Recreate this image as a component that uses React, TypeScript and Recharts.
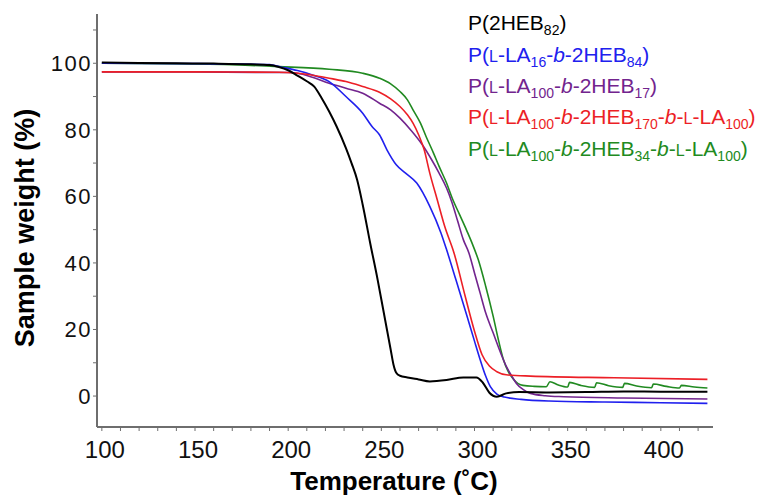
import React from 'react';
import { LineChart, Line, XAxis, YAxis } from 'recharts';

// Temperature (°C) vs sample weight (%) pairs
const p2HEB82: [number, number][] = [
  [100, 100.2], [120, 100.1], [140, 100], [160, 99.9], [180, 99.7], [190, 99.5], [195, 98.9],
  [200, 97.9], [205, 96.3], [210, 94.6], [214, 93], [218, 89.5], [222, 85.5], [226, 81],
  [231, 74.5], [234, 70], [237, 65], [240, 57.5], [244, 46], [248, 35], [251, 26], [253, 20],
  [255, 14], [256.5, 9.5], [258, 7], [260, 6.1], [264, 5.6], [270, 5], [276, 4.4], [285, 4.8],
  [294, 5.6], [301, 5.6], [304.5, 4], [308, 1], [312, -0.2], [317, 0.8], [324, 1.2], [340, 1.1],
  [360, 1.2], [380, 1.4], [400, 1.3], [425, 1.3],
];
const pLA16HEB84: [number, number][] = [
  [100, 100], [150, 99.9], [190, 99.6], [196, 98.9], [205, 97.8], [213, 96.5], [222, 94.5],
  [231, 90], [240, 85], [245, 81], [249, 78.5], [253, 74], [258, 69.5], [263, 67], [269, 64],
  [276, 57], [282, 49], [285, 44], [290, 35], [296, 24], [300, 16.5], [303, 11], [306, 6],
  [308.5, 2.8], [312, 0.6], [316, -0.3], [325, -1], [340, -1.5], [370, -1.8], [400, -2], [425, -2.2],
];
const pLA100HEB17: [number, number][] = [
  [100, 97.4], [150, 97.4], [200, 97.2], [205, 97], [213, 95.8], [222, 94], [231, 92.5],
  [240, 91], [249, 88], [255, 86], [260, 83.5], [266, 79.8], [272, 75.5], [277, 71], [281, 67],
  [285, 62.5], [288, 58], [291, 52.5], [294, 47], [297, 43], [300, 37], [303, 31], [306, 25],
  [310, 19], [314, 13], [317, 9], [320, 6], [322.5, 3.8], [326, 2], [330, 0.8], [338, 0.1],
  [348, -0.2], [380, -0.6], [425, -0.9],
];
const pLA100HEB170LA100: [number, number][] = [
  [100, 97.4], [150, 97.4], [195, 97.3], [210, 96.7], [217, 96], [224, 95.3], [231, 94.5],
  [240, 93], [249, 91.3], [255, 89.3], [260, 87], [264, 84.5], [267, 82], [270, 78.5],
  [273, 74], [276, 67], [280, 59], [284, 51], [289, 43], [295, 30], [300, 19.5], [304, 12.5],
  [308, 9], [312, 7.3], [317, 6.4], [330, 6], [375, 5.5], [425, 5],
];
const pLA100HEB34LA100: [number, number][] = [
  [100, 100], [150, 99.8], [195, 99], [222, 98.2], [240, 97], [249, 95.5], [255, 93.8],
  [260, 91.5], [264, 89], [267, 86], [271, 82], [274, 78], [278, 73], [281, 69], [285, 64],
  [288, 59.5], [292, 54.5], [296, 49.5], [299, 45.5], [302, 41], [306, 33], [310, 24], [313, 16.5],
  [315.5, 11], [318, 7.5], [321, 5], [326, 3.2], [332, 2.9], [338.5, 2.8], [340.5, 4.3],
  [345, 3.3], [350, 2.7], [351, 4.1], [357, 3.2], [364.5, 2.6], [365.5, 4], [372, 3.1],
  [379.5, 2.6], [380.5, 3.8], [387, 3], [395, 2.5], [396, 3.6], [403, 2.9], [410, 2.4],
  [411, 3.2], [418, 2.7], [425, 2.4],
];

const xTicks = [100, 110, 120, 130, 140, 150, 160, 170, 180, 190, 200, 210, 220, 230, 240, 250,
  260, 270, 280, 290, 300, 310, 320, 330, 340, 350, 360, 370, 380, 390, 400, 410, 420];
const xLabels = [100, 150, 200, 250, 300, 350, 400];
const yTicks = [0, 10, 20, 30, 40, 50, 60, 70, 80, 90, 100, 110];
const yLabels = [0, 20, 40, 60, 80, 100];

const toRows = (pts: [number, number][]) => pts.map(([t, w]) => ({ t, w }));

const FONT = '"Liberation Sans", Arial, Helvetica, sans-serif';
const AXIS = '#6e6e6e';

type Part = [string, '' | 'sub' | 'sc' | 'i'];
const legendItems: { color: string; parts: Part[] }[] = [
  { color: '#000000', parts: [['P(2HEB', ''], ['82', 'sub'], [')', '']] },
  { color: '#2020ee', parts: [['P(', ''], ['L', 'sc'], ['-LA', ''], ['16', 'sub'], ['-', ''], ['b', 'i'], ['-2HEB', ''], ['84', 'sub'], [')', '']] },
  { color: '#72248e', parts: [['P(', ''], ['L', 'sc'], ['-LA', ''], ['100', 'sub'], ['-', ''], ['b', 'i'], ['-2HEB', ''], ['17', 'sub'], [')', '']] },
  { color: '#ec1f26', parts: [['P(', ''], ['L', 'sc'], ['-LA', ''], ['100', 'sub'], ['-', ''], ['b', 'i'], ['-2HEB', ''], ['170', 'sub'], ['-', ''], ['b', 'i'], ['-', ''], ['L', 'sc'], ['-LA', ''], ['100', 'sub'], [')', '']] },
  { color: '#218a21', parts: [['P(', ''], ['L', 'sc'], ['-LA', ''], ['100', 'sub'], ['-', ''], ['b', 'i'], ['-2HEB', ''], ['34', 'sub'], ['-', ''], ['b', 'i'], ['-', ''], ['L', 'sc'], ['-LA', ''], ['100', 'sub'], [')', '']] },
];
const legendBaselines = [30, 62, 93, 124, 156];

const XTick = (props: any) => {
  const { x, payload } = props;
  const v = payload.value;
  if (!xLabels.includes(v)) return <g />;
  return (
    <text x={x + 3} y={458} textAnchor="middle" fontSize={24} fontFamily={FONT} fill="#111">
      {v}
    </text>
  );
};

const YTick = (props: any) => {
  const { y, payload } = props;
  const v = payload.value;
  if (!yLabels.includes(v)) return <g />;
  return (
    <text x={92} y={y + 8} textAnchor="end" fontSize={22} letterSpacing={1.5} fontFamily={FONT} fill="#111">
      {v}
    </text>
  );
};

const LegendLine = ({ color, parts, y }: { color: string; parts: Part[]; y: number }) => {
  let shift = 0;
  return (
    <text x={468} y={y} fill={color} fontFamily={FONT} fontSize={21}>
      {parts.map(([s, kind], i) => {
        const target = kind === 'sub' ? 5 : 0;
        const dy = target - shift;
        shift = target;
        return (
          <tspan
            key={i}
            dy={dy}
            fontSize={kind === 'sub' ? 14 : kind === 'sc' ? 16 : 21}
            fontStyle={kind === 'i' ? 'italic' : 'normal'}
          >
            {s}
          </tspan>
        );
      })}
    </text>
  );
};

const series = [
  { key: 'green', data: pLA100HEB34LA100, color: '#218a21', w: 1.6 },
  { key: 'purple', data: pLA100HEB17, color: '#72248e', w: 1.6 },
  { key: 'blue', data: pLA16HEB84, color: '#2020ee', w: 1.6 },
  { key: 'red', data: pLA100HEB170LA100, color: '#ec1f26', w: 1.6 },
  { key: 'black', data: p2HEB82, color: '#000000', w: 2 },
];

export default function App() {
  return (
    <div style={{ position: 'absolute', left: 0, top: 0, width: 761, height: 497, background: '#fff' }}>
      <LineChart width={761} height={497} margin={{ top: 14, right: 48, bottom: 0, left: 0 }}>
        <XAxis
          type="number"
          dataKey="t"
          domain={[97.4, 428]}
          ticks={xTicks}
          interval={0}
          allowDataOverflow
          height={70}
          stroke={AXIS}
          strokeWidth={2}
          tickSize={4}
          tickLine={{ stroke: AXIS, strokeWidth: 1 }}
          tick={XTick}
        />
        <YAxis
          type="number"
          dataKey="w"
          domain={[-9.3, 114.8]}
          ticks={yTicks}
          interval={0}
          allowDataOverflow
          width={97}
          stroke={AXIS}
          strokeWidth={2}
          tickSize={4}
          tickLine={{ stroke: AXIS, strokeWidth: 1 }}
          tick={YTick}
        />
        {series.map((s) => (
          <Line
            key={s.key}
            data={toRows(s.data)}
            dataKey="w"
            type="monotone"
            stroke={s.color}
            strokeWidth={s.w}
            dot={false}
            activeDot={false}
            isAnimationActive={false}
          />
        ))}
      </LineChart>
      <svg width={761} height={497} style={{ position: 'absolute', left: 0, top: 0, pointerEvents: 'none' }}>
        {legendItems.map((it, i) => (
          <LegendLine key={i} color={it.color} parts={it.parts} y={legendBaselines[i]} />
        ))}
        <text x={394} y={490} textAnchor="middle" fontSize={26} fontWeight="bold" fontFamily={FONT} fill="#000">
          Temperature (˚C)
        </text>
        <text
          x={34}
          y={228}
          transform="rotate(-90 34 228)"
          textAnchor="middle"
          fontSize={27}
          fontWeight="bold"
          fontFamily={FONT}
          fill="#000"
        >
          Sample weight (%)
        </text>
      </svg>
    </div>
  );
}
